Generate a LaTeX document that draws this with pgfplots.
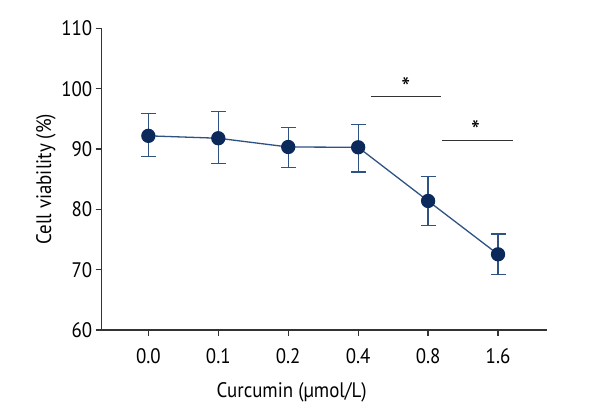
\documentclass[border=0pt]{standalone}
\usepackage{fontspec}
\setmainfont{PT Sans}[FakeStretch=0.9]
\usepackage{pgfplots}
\pgfplotsset{compat=1.18}
\definecolor{navy}{HTML}{0B2A5B}
\definecolor{lineblue}{HTML}{2E5283}
\definecolor{axisgray}{HTML}{333333}
\newcommand{\tickfont}{\fontsize{21}{24}\selectfont}
\newcommand{\labfont}{\fontsize{21}{24}\selectfont}
\begin{document}
\begin{tikzpicture}
\begin{axis}[
  name=ax,
  at={(0,0)}, anchor=south west,
  scale only axis, width=445.3pt, height=301.5pt,
  xmin=-0.667, xmax=5.7, ymin=60, ymax=110,
  axis x line*=bottom, axis y line*=left,
  axis line style={axisgray, line width=1.3pt, -},
  xtick={0,...,5}, xticklabels={0.0,0.1,0.2,0.4,0.8,1.6},
  ytick={60,70,...,110},
  tick style={axisgray, line width=1.3pt},
  major tick length=6pt,
  tick align=outside,
  /pgf/number format/assume math mode=true,
  tick label style={font=\tickfont},
  label style={font=\labfont},
  xticklabel style={yshift=-9pt},
  xlabel={Curcumin (µmol/L)},
  ylabel={Cell viability (\%)},
  xlabel style={at={(rel axis cs:0.4267,-0.2070)}, anchor=center},
  ylabel style={at={(rel axis cs:-0.1251,0.5)}, anchor=center},
  clip=false,
]
\addplot[lineblue, line width=1.3pt, mark=*, mark size=6.5pt,
  mark options={draw=navy, fill=navy, solid},
  error bars/.cd, y dir=both, y explicit,
  error bar style={lineblue, line width=1.3pt},
  error mark options={lineblue, line width=1.3pt, mark size=7.5pt, rotate=90}]
coordinates {
  (0,92.2)  += (0,3.7) -= (0,3.4)
  (1,91.8)  += (0,4.4) -= (0,4.2)
  (2,90.35) += (0,3.2) -= (0,3.35)
  (3,90.3)  += (0,3.8) -= (0,4.1)
  (4,81.4)  += (0,4.0) -= (0,4.1)
  (5,72.55) += (0,3.35) -= (0,3.35)
};
\draw[axisgray, line width=1.3pt] (axis cs:3.18,98.7) -- (axis cs:4.19,98.7);
\draw[axisgray, line width=1.3pt] (axis cs:4.2,91.4) -- (axis cs:5.21,91.4);
\node[font=\fontsize{28}{30}\selectfont, inner sep=0pt] at (axis cs:3.68,100.2) {*};
\node[font=\fontsize{28}{30}\selectfont, inner sep=0pt] at (axis cs:4.68,93.1) {*};
\end{axis}
\pgfresetboundingbox
\path[use as bounding box] ([shift={(-101.7pt,-90pt)}]ax.south west) rectangle ([shift={(53pt,28.5pt)}]ax.north east);
\end{tikzpicture}
\end{document}
